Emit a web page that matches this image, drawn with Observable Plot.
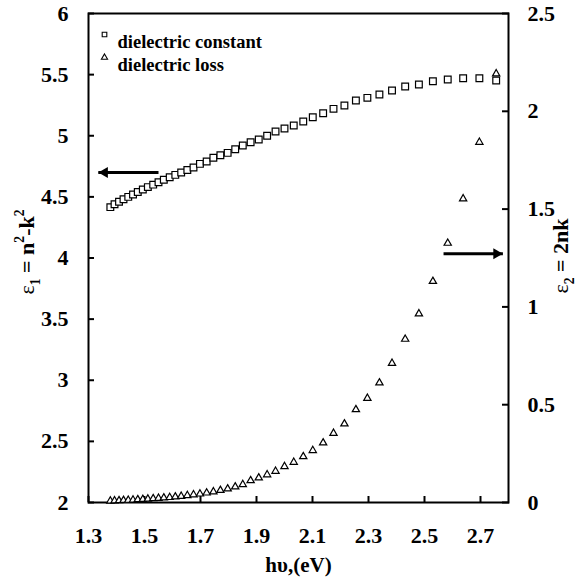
<!DOCTYPE html>
<html><head><meta charset="utf-8">
<script src="https://cdn.jsdelivr.net/npm/d3@7"></script>
<script src="https://cdn.jsdelivr.net/npm/@observablehq/plot@0.6"></script>
<style>html,body{margin:0;padding:0;background:#fff}</style>
</head><body><div id="chart"></div>
<script>
// photon energy hν (eV)
const photonEnergy = [1.378,1.393,1.409,1.425,1.442,1.459,1.476,1.494,1.512,1.531,1.550,1.569,1.590,1.610,1.631,1.653,1.675,1.698,1.722,1.746,1.771,1.797,1.824,1.851,1.879,1.908,1.938,1.968,2.000,2.033,2.067,2.101,2.138,2.175,2.214,2.255,2.296,2.339,2.384,2.431,2.480,2.530,2.583,2.638,2.696,2.756];
// ε1 = n²-k² (left axis)
const dielectricConstant = [4.416,4.44,4.46,4.48,4.50,4.52,4.54,4.56,4.58,4.60,4.62,4.64,4.66,4.68,4.70,4.72,4.74,4.77,4.79,4.82,4.84,4.86,4.89,4.92,4.947,4.969,5.00,5.035,5.06,5.084,5.117,5.152,5.184,5.22,5.247,5.288,5.31,5.337,5.37,5.403,5.419,5.446,5.46,5.471,5.471,5.452];
// ε2 = 2nk (right axis)
const dielectricLoss = [0.008,0.009,0.010,0.011,0.012,0.013,0.015,0.016,0.018,0.020,0.022,0.024,0.026,0.029,0.032,0.036,0.040,0.044,0.049,0.055,0.062,0.070,0.080,0.092,0.112,0.126,0.142,0.160,0.184,0.206,0.235,0.266,0.305,0.354,0.402,0.475,0.533,0.612,0.712,0.835,0.965,1.131,1.326,1.553,1.842,2.192];

const xTicks = [1.3,1.5,1.7,1.9,2.1,2.3,2.5,2.7];
const leftTicks = [2,2.5,3,3.5,4,4.5,5,5.5,6];
const rightTicks = [0,0.5,1,1.5,2,2.5];
const legendLabels = ["dielectric constant","dielectric loss"];
const legendSymbols = ["square","triangle"];
const xTitle = "hυ,(eV)";
const leftTitle = "ε1 = n2-k2";
const rightTitle = "ε2 = 2nk";
// annotation arrows: from (tail) -> to (tip), at ε1 level
const arrowLeft = {from:1.55, to:1.335, at:4.70};
const arrowRight = {from:2.568, to:2.78, at:4.035};

const e2toE1 = d3.scaleLinear().domain([0,2.5]).range([2,6]);
const rows = photonEnergy.map((x,i)=>({x, e1: dielectricConstant[i], e2: dielectricLoss[i]}));
const rightTickPos = rightTicks.map(v => e2toE1(v));
const rightLabel = new Map(rightTickPos.map((p,i)=>[p, String(rightTicks[i])]));

const fs = 22;
const legendMarks = legendLabels.flatMap((label,i)=>[
  Plot.dot([label], {frameAnchor:"top-left", dx:16, dy:21+23*i, symbol:legendSymbols[i], r: legendSymbols[i]==="square"?2.6:2.3, stroke:"black", strokeWidth:1.1}),
  Plot.text([label], {frameAnchor:"top-left", dx:29, dy:21+23*i, text:d=>d, textAnchor:"start", fontSize:18.5, fontWeight:"bold"})
]);

const chart = Plot.plot({
  width: 579, height: 586,
  marginLeft: 88, marginRight: 71, marginTop: 13, marginBottom: 84,
  x: {domain:[1.3,2.8]},
  y: {domain:[2,6]},
  style: {fontFamily:"'Liberation Serif', serif", fontSize: fs+"px", fontWeight:"bold", color:"black", background:"white"},
  marks: [
    Plot.axisX(xTicks, {anchor:"bottom", tickSize:-6, tickPadding:31, strokeWidth:2, tickFormat:d3.format(".1f"), label:null, fontSize:fs}),
    Plot.axisY(leftTicks, {anchor:"left", tickSize:-6, tickPadding:26, strokeWidth:2, tickFormat:d3.format("~g"), label:null, fontSize:fs}),
    Plot.axisY(rightTickPos, {anchor:"right", tickSize:-7, tickPadding:26, strokeWidth:2, tickFormat:d=>rightLabel.get(d), label:null, fontSize:fs}),
    Plot.frame({stroke:"black", strokeWidth:2}),
    Plot.dot(rows, {x:"x", y:"e1", symbol:"square", r:3.8, stroke:"black", strokeWidth:1.2, fill:"white"}),
    Plot.dot(rows, {x:"x", y:d=>e2toE1(d.e2), symbol:"triangle", r:2.7, stroke:"black", strokeWidth:1.2, fill:"white"}),
    Plot.link([arrowLeft, arrowRight], {x1:"from", x2:"to", y1:"at", y2:"at", stroke:"black", strokeWidth:3}),
    Plot.dot([arrowLeft], {x:"to", y:"at", dx:6.4, symbol:"triangle", rotate:-90, r:4.1, fill:"black", stroke:"none"}),
    Plot.dot([arrowRight], {x:"to", y:"at", dx:-6.4, symbol:"triangle", rotate:90, r:4.1, fill:"black", stroke:"none"}),
    ...legendMarks,
    Plot.text([xTitle], {frameAnchor:"bottom", dy:69, text:d=>d, textAnchor:"middle", fontSize:21, fontWeight:"bold"}),
    Plot.text([leftTitle], {frameAnchor:"left", dx:-62, dy:-6, text:d=>d, textAnchor:"middle", rotate:-90, fontSize:22, fontWeight:"bold"}),
    Plot.text([rightTitle], {frameAnchor:"right", dx:52, dy:-2, text:d=>d, textAnchor:"middle", rotate:-90, fontSize:22, fontWeight:"bold"})
  ]
});
document.getElementById("chart").appendChild(chart);

// real sub/superscripts in the axis titles
function richText(plain, parts){
  d3.select(chart).selectAll("text").filter(function(){return this.textContent===plain;}).each(function(){
    const t = d3.select(this);
    const size = parseFloat(t.attr("font-size")) || 22;
    t.text(null);
    let shift = 0;
    for (const [s, kind] of parts) {
      const target = (kind==="sub" ? 0.3 : kind==="sup" ? -0.42 : 0) * size;
      const ts = t.append("tspan").text(s).attr("dy", target-shift);
      if (kind) ts.attr("font-size", size*0.62);
      if (s==="ε") ts.attr("font-weight","normal");
      shift = target;
    }
  });
}
richText(leftTitle, [["ε",""],["1","sub"],[" = n",""],["2","sup"],["-k",""],["2","sup"]]);
richText(rightTitle, [["ε",""],["2","sub"],[" = 2nk",""]]);
</script>
</body></html>
